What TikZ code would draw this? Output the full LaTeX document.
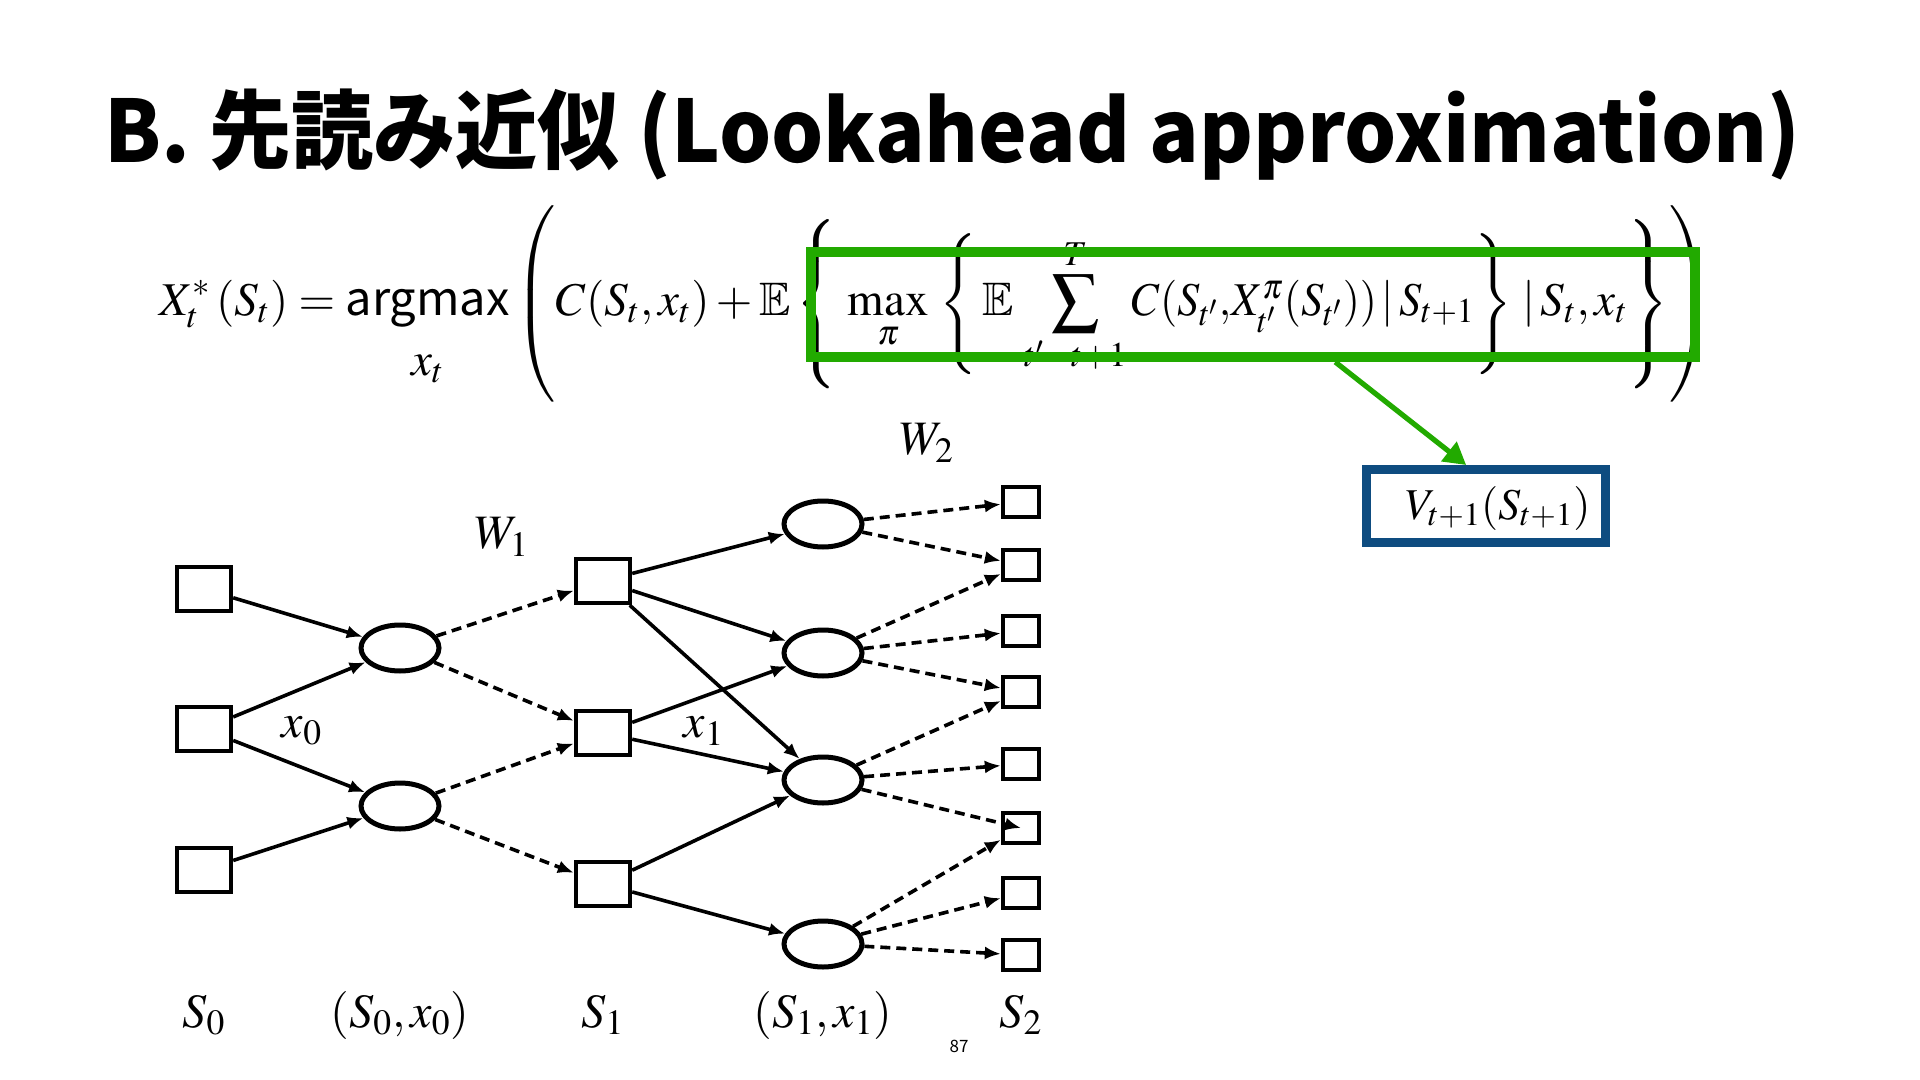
\documentclass[tikz,border=0pt]{standalone}
\usepackage{amsmath,amssymb}
\usepackage{mathptmx}
\usepackage{fontspec}
\setmainfont{Liberation Serif}
\newfontfamily\cjk{Noto Sans CJK JP}
\usetikzlibrary{arrows.meta,shapes.geometric,calc}
\definecolor{egreen}{RGB}{34,170,0}
\definecolor{vblue}{RGB}{14,76,128}
\tikzset{
  sqbox/.style={draw, line width=2.2pt, minimum width=27pt, minimum height=22pt, inner sep=0pt, fill=white},
  sqsmall/.style={draw, line width=2.2pt, minimum width=18pt, minimum height=15pt, inner sep=0pt, fill=white},
  ellbox/.style={ellipse, draw, line width=2.5pt, minimum width=39pt, minimum height=23pt, inner sep=0pt, fill=white},
  arr/.style={-{Latex[length=8pt,width=6.5pt]}, line width=1.8pt},
  darr/.style={arr, dash pattern=on 5pt off 3pt},
  lab/.style={font=\fontsize{24}{28}\selectfont, inner sep=0pt},
  garr/.style={-{Triangle[length=11pt,width=12pt]}, line width=2.6pt, draw=egreen, fill=egreen}
}
\begin{document}
\begin{tikzpicture}[x=0.5pt,y=-0.5pt]
\useasboundingbox[fill=white] (0,0) rectangle (1920,1080);
% title
\node[anchor=base west, font=\cjk\bfseries\fontsize{43}{50}\selectfont, inner sep=0pt] (title) at (104,163) {\scalebox{0.955}[1]{B. 先読み近似 (Lookahead approximation)}};
% formula
\node[anchor=west, font=\fontsize{23.5}{28}\selectfont, inner sep=0pt] (eq) at (159,304) {$\displaystyle
X^{*}_{t}\left(S_t\right) = \mathop{\text{\cjk argmax}}\limits_{\textstyle x_t\rule{0pt}{20pt}}\left(\vcenter{\hbox{\rule{0pt}{94pt}}} C(S_t,x_t)+\mathbb{E}\left\{\vcenter{\hbox{\rule{0pt}{82pt}}}\,\max_{\pi}\,\left\{\vcenter{\hbox{\rule{0pt}{68pt}}}\,\mathbb{E}\,\sum_{t'=t+1}^{T} \scalebox{0.94}[1]{$C(S_{t'},\!X^{\pi}_{t'}(S_{t'}))\,|\,S_{t+1}$}\right\}\,|\,S_t,x_t\right\}\right)$};
% green box
\node[draw=egreen, line width=5pt, minimum width=442pt, minimum height=52.5pt, inner sep=0pt] (gbox) at (1253,304.5) {};
% value box
\node[draw=vblue, line width=4.5pt, minimum width=119.5pt, minimum height=36.5pt, inner sep=0pt] (vbox) at (1486,506) {};
\node[font=\fontsize{22}{26}\selectfont, inner sep=0pt] (vtext) at (1498,508) {$V_{t+1}(S_{t+1})$};
\draw[garr] ($(gbox.south west)!0.592!(gbox.south east)$) -- ($(vbox.north west)!0.42!(vbox.north east)$);
% tree nodes
\node[sqbox] (a1) at (204,589) {};
\node[sqbox] (a2) at (204,729) {};
\node[sqbox] (a3) at (204,870) {};
\node[ellbox] (e1) at (400,648) {};
\node[ellbox] (e2) at (400,806) {};
\node[sqbox] (b1) at (603,581) {};
\node[sqbox] (b2) at (603,733) {};
\node[sqbox] (b3) at (603,884) {};
\node[ellbox] (c1) at (823,524) {};
\node[ellbox] (c2) at (823,653) {};
\node[ellbox] (c3) at (823,780) {};
\node[ellbox] (c4) at (823,944) {};
\node[sqsmall] (d1) at (1021,502) {};
\node[sqsmall] (d2) at (1021,565) {};
\node[sqsmall] (d3) at (1021,631) {};
\node[sqsmall] (d4) at (1021,692) {};
\node[sqsmall] (d5) at (1021,764) {};
\node[sqsmall] (d6) at (1021,828) {};
\node[sqsmall] (d7) at (1021,893) {};
\node[sqsmall] (d8) at (1021,955) {};
% edges
\draw[arr] (a1) -- (e1);
\draw[arr] (a2) -- (e1);
\draw[arr] (a2) -- (e2);
\draw[arr] (a3) -- (e2);
\draw[darr] (e1) -- (b1);
\draw[darr] (e1) -- (b2);
\draw[darr] (e2) -- (b2);
\draw[darr] (e2) -- (b3);
\draw[arr] (b1) -- (c1);
\draw[arr] (b1) -- (c2);
\draw[arr] (b1) -- (c3);
\draw[arr] (b2) -- (c2);
\draw[arr] (b2) -- (c3);
\draw[arr] (b3) -- (c3);
\draw[arr] (b3) -- (c4);
\draw[darr] (c1) -- (d1);
\draw[darr] (c1) -- (d2);
\draw[darr] (c2) -- (d2);
\draw[darr] (c2) -- (d3);
\draw[darr] (c2) -- (d4);
\draw[darr] (c3) -- (d4);
\draw[darr] (c3) -- (d5);
\draw[darr] (c3) -- (d6.center);
\draw[darr] (c4) -- (d6);
\draw[darr] (c4) -- (d7);
\draw[darr] (c4) -- (d8);
% labels
\node[lab] (w1) at (502,537) {$W_1$};
\node[lab] (w2) at (927,443) {$W_2$};
\node[lab] (x0) at (302,731) {$x_0$};
\node[lab] (x1) at (704,731) {$x_1$};
\node[lab] (l0) at (204,1015) {$S_0$};
\node[lab] (l1) at (400,1015) {$(S_0,x_0)$};
\node[lab] (l2) at (603,1015) {$S_1$};
\node[lab] (l3) at (823,1015) {$(S_1,x_1)$};
\node[lab] (l4) at (1021,1015) {$S_2$};
\node[font=\cjk\fontsize{8.5}{10}\selectfont, inner sep=0pt] (pg) at (959,1046) {87};
\end{tikzpicture}
\end{document}
